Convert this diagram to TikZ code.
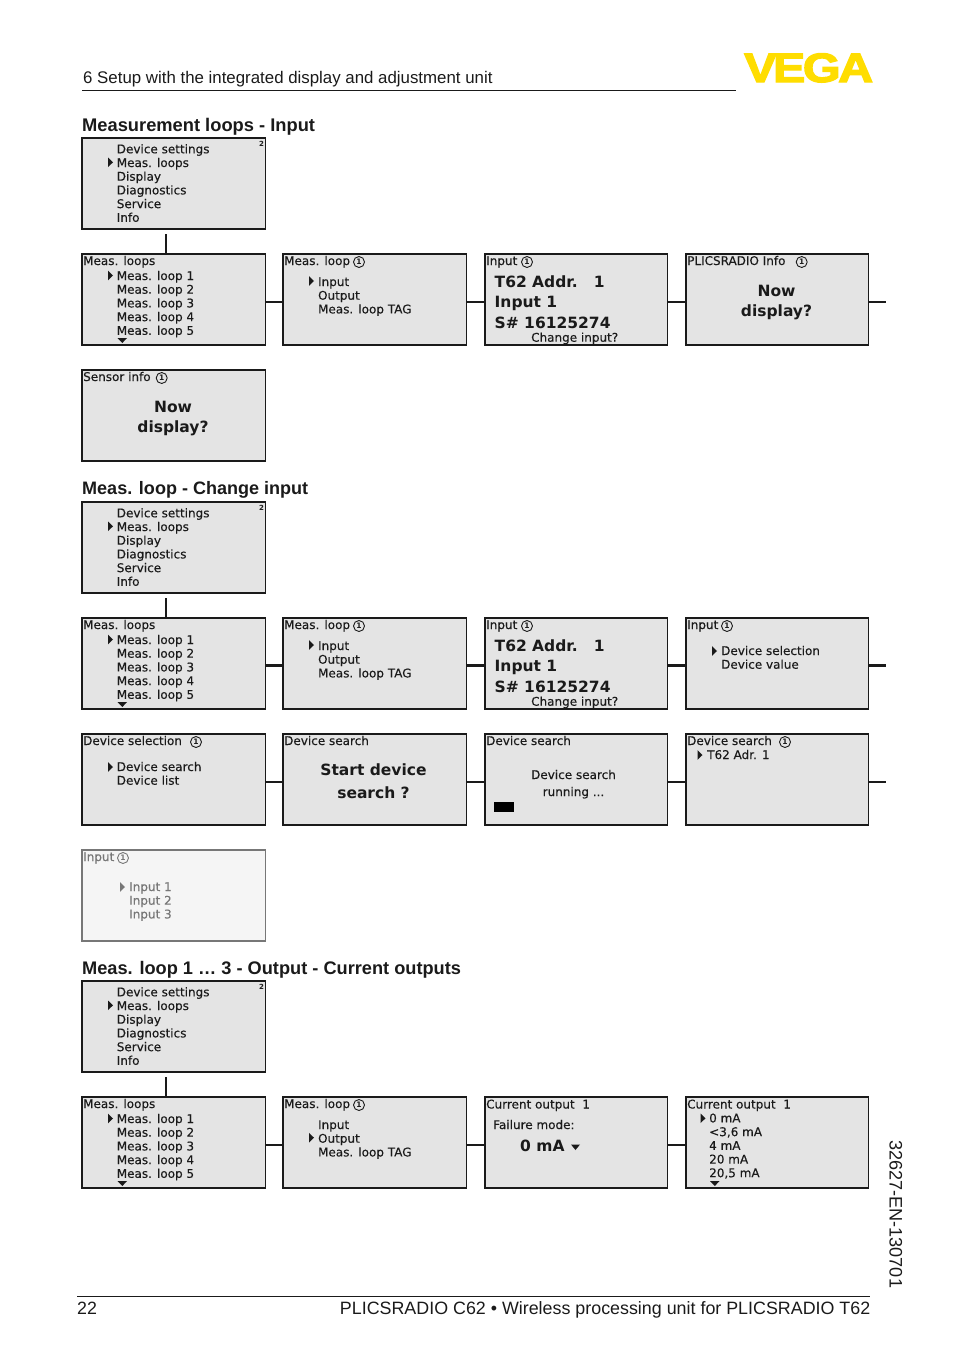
\documentclass[tikz,border=0pt]{standalone}
\usepackage{fontspec}
\setmainfont{Liberation Sans}
\newfontfamily\lcdfont[FakeBold=0.25]{DejaVu Sans}
\newfontfamily\bigfont{DejaVu Sans Bold}
\newfontfamily\logofont[FakeBold=3]{Liberation Sans Bold}
\definecolor{scrfill}{HTML}{E4E4E4}
\definecolor{fadefill}{HTML}{F5F5F5}
\definecolor{fadeink}{HTML}{777777}
\definecolor{ink}{HTML}{1A1A1A}
\definecolor{logoyellow}{HTML}{FFDD00}
\newcounter{tn}
\tikzset{
  scr/.style={draw=ink,fill=scrfill,line width=1.3pt,anchor=north west,minimum width=183.2pt,minimum height=91pt,inner sep=0pt,outer sep=0pt},
  scrn/.style={scr,minimum width=182.2pt},
  fadescr/.style={scr,draw=fadeink,fill=fadefill},
  conn/.style={draw=ink,line width=2pt},
  connb/.style={draw=ink,line width=2.6pt},
  lcd/.style={anchor=base west,inner sep=0pt,font=\lcdfont\fontsize{12}{12}\selectfont,text=ink},
  big/.style={anchor=base west,inner sep=0pt,font=\bigfont\fontsize{15.5}{16}\selectfont,text=ink},
  bigc/.style={big,anchor=base},
  lcdc/.style={lcd,anchor=base},
  heading/.style={anchor=base west,inner sep=0pt,font=\bfseries\fontsize{18.3}{20}\selectfont,text=ink},
  pagetext/.style={anchor=base west,inner sep=0pt,font=\fontsize{17.8}{20}\selectfont,text=ink},
  circ/.style={circle,draw=#1,line width=.9pt,minimum size=11pt,inner sep=0pt,text=#1,font=\bigfont\fontsize{7.5}{8}\selectfont},
  circ/.default=ink
}
\newcommand\T[4][lcd]{\stepcounter{tn}\node[#1] (t\thetn) at (#2,#3) {#4};}
\newcommand\C[2][ink]{\stepcounter{tn}\node[circ=#1] (t\thetn) at (#2,8) {1};}
\newcommand\ptr[3][ink]{\fill[#1] (#2,#3-4.8) -- (#2+5,#3) -- (#2,#3+4.8) -- cycle;}
\newcommand\dn[2]{\fill[ink] (#1,#2) -- (#1+9.6,#2) -- (#1+4.8,#2+5) -- cycle;}
\newcommand\screen[5][scr]{\node[#1] (#2) at (#3,#4) {};\begin{scope}[shift={(#3,#4)}]#5\end{scope}}
% repeated contents
\newcommand\mainmenu{%
  \T{34.6}{15.3}{Device settings}\T{34.6}{29}{Meas. loops}\T{34.6}{42.7}{Display}\T{34.6}{56.4}{Diagnostics}\T{34.6}{70.1}{Service}\T{34.6}{83.8}{Info}
  \ptr{26}{24.3}
  \T[lcd,font=\bigfont\fontsize{7}{8}\selectfont]{177}{8}{2}}
\newcommand\loops{%
  \T{1}{11}{Meas. loops}
  \T{34.6}{26}{Meas. loop 1}\T{34.6}{39.7}{Meas. loop 2}\T{34.6}{53.4}{Meas. loop 3}\T{34.6}{67.1}{Meas. loop 4}\T{34.6}{80.8}{Meas. loop 5}
  \ptr{26}{21.5}\dn{35.5}{84}}
\newcommand\inout[1]{%
  \T{1}{11}{Meas. loop}\C{76}
  \T{34.9}{32}{Input}\T{34.9}{45.7}{Output}\T{34.9}{59.4}{Meas. loop TAG}
  \ptr{26}{#1}}
\newcommand\inputinfo{%
  \T{1}{11}{Input}\C{42}
  \T[big]{9.5}{33}{T62 Addr.\ \ \ 1}\T[big]{9.5}{53}{Input 1}\T[big]{9.5}{74}{S\# 16125274}
  \T{46}{87.7}{Change input?}}
\newcommand\nowdisplay{\T[bigc]{90.5}{42.7}{Now}\T[bigc]{90.5}{62.7}{display?}}
\begin{document}
\begin{tikzpicture}[x=1pt,y=-1pt]
\useasboundingbox (0,0) rectangle (954,1354);
% page furniture
\node[pagetext,font=\fontsize{16.85}{20}\selectfont] (hdr) at (83,83) {6 Setup with the integrated display and adjustment unit};
\coordinate (hrA) at (82,90.5);\coordinate (hrB) at (736,90.5);
\draw[ink,line width=.9pt] (hrA) -- (hrB);
\node[anchor=base west,inner sep=0pt,text=logoyellow,font=\logofont\fontsize{41}{42}\selectfont,xscale=1.18] (logo) at (744,82) {V\kern-3pt E\kern-2pt G\kern-2pt A};
\node[heading] (h1) at (82,131) {Measurement loops - Input};
\node[heading,font=\bfseries\fontsize{18.03}{20}\selectfont] (h2) at (82,494) {Meas. loop - Change input};
\node[heading,font=\bfseries\fontsize{18.2}{20}\selectfont] (h3) at (82,974) {Meas. loop 1 … 3 - Output - Current outputs};
% block 1
\screen{a1}{82}{138}{\mainmenu}
\screen{a2}{82}{254}{\loops}
\screen{a3}{283}{254}{\inout{27}}
\screen[scrn]{a4}{485}{254}{\inputinfo}
\screen[scrn]{a5}{686}{254}{\T{1}{11}{PLICSRADIO Info}\C{115.7}\nowdisplay}
\screen{a6}{82}{370}{\T{1}{11}{Sensor info}\C{79.7}\T[bigc]{91}{42.7}{Now}\T[bigc]{91}{62.7}{display?}}
\coordinate (a1s) at (166,234);
\draw[conn] (a1s) -- (a1s |- a2.north);
\coordinate (a5e) at (886,301.5);
\draw[conn] ([yshift=-2pt]a2.east) -- ([yshift=-2pt]a3.west);
\draw[conn] ([yshift=-2pt]a3.east) -- ([yshift=-2pt]a4.west);
\draw[conn] ([yshift=-2pt]a4.east) -- ([yshift=-2pt]a5.west);
\draw[conn] ([yshift=-2pt]a5.east) -- (a5e);
% block 2
\screen{b1}{82}{502}{\mainmenu}
\screen{b2}{82}{618}{\loops}
\screen{b3}{283}{618}{\inout{27}}
\screen[scrn]{b4}{485}{618}{\inputinfo}
\screen[scrn]{b5}{686}{618}{\T{1}{11}{Input}\C{41}\T{35}{37}{Device selection}\T{35}{50.7}{Device value}\ptr{26}{33}}
\screen{c1}{82}{734}{\T{1}{11}{Device selection}\C{114}\T{34.6}{37}{Device search}\T{34.6}{50.7}{Device list}\ptr{26}{33}}
\screen{c2}{283}{734}{\T{1}{11}{Device search}\T[bigc]{90.5}{41}{Start device}\T[bigc]{90.5}{64}{search ?}}
\screen[scrn]{c3}{485}{734}{\T{1}{11}{Device search}\T[lcdc]{88.5}{45}{Device search}\T[lcdc]{88.5}{62}{running ...}\fill[black] (8.5,68) rectangle (28.5,78);}
\screen[scrn]{c4}{686}{734}{\T{1}{11}{Device search}\C{99}\T{21}{25}{T62 Adr. 1}\ptr{11.5}{21}}
\screen[fadescr]{d1}{82}{850}{%
  \T[lcd,text=fadeink]{1}{11}{Input}\C[fadeink]{41}
  \T[lcd,text=fadeink]{47}{41}{Input 1}\T[lcd,text=fadeink]{47}{54.7}{Input 2}\T[lcd,text=fadeink]{47}{68.4}{Input 3}
  \ptr[fadeink]{38}{37}}
\coordinate (b1s) at (166,598);
\draw[conn] (b1s) -- (b1s |- b2.north);
\coordinate (b5e) at (886,665.5);
\draw[connb] ([yshift=-2pt]b2.east) -- ([yshift=-2pt]b3.west);
\draw[connb] ([yshift=-2pt]b3.east) -- ([yshift=-2pt]b4.west);
\draw[connb] ([yshift=-2pt]b4.east) -- ([yshift=-2pt]b5.west);
\draw[connb] ([yshift=-2pt]b5.east) -- (b5e);
\coordinate (c4e) at (886,781.5);
\draw[conn] ([yshift=-2pt]c1.east) -- ([yshift=-2pt]c2.west);
\draw[conn] ([yshift=-2pt]c2.east) -- ([yshift=-2pt]c3.west);
\draw[conn] ([yshift=-2pt]c3.east) -- ([yshift=-2pt]c4.west);
\draw[conn] ([yshift=-2pt]c4.east) -- (c4e);
% block 3
\screen{e1}{82}{981}{\mainmenu}
\screen{e2}{82}{1097}{\loops}
\screen{e3}{283}{1097}{\inout{40.7}}
\screen[scrn]{e4}{485}{1097}{\T{1}{11.5}{Current output\ \ 1}\T{8}{32}{Failure mode:}\T[big]{35}{54}{0 mA}\fill[ink] (86,47.5) -- (95,47.5) -- (90.5,53) -- cycle;}
\screen[scrn]{e5}{686}{1097}{\T{1}{11.5}{Current output\ \ 1}
  \T{23}{25.4}{0 mA}\T{23}{39.1}{<3,6 mA}\T{23}{52.8}{4 mA}\T{23}{66.5}{20 mA}\T{23}{80.2}{20,5 mA}
  \ptr{14.5}{21.3}\dn{24}{84}}
\coordinate (e1s) at (166,1077);
\draw[conn] (e1s) -- (e1s |- e2.north);
\draw[conn] ([yshift=-2pt]e2.east) -- ([yshift=-2pt]e3.west);
\draw[conn] ([yshift=-2pt]e3.east) -- ([yshift=-2pt]e4.west);
\draw[conn] ([yshift=-2pt]e4.east) -- ([yshift=-2pt]e5.west);
% footer
\coordinate (frA) at (77,1296.5);\coordinate (frB) at (870,1296.5);
\draw[ink,line width=.9pt] (frA) -- (frB);
\node[pagetext] (pg) at (77,1314) {22};
\node[pagetext,anchor=base east,font=\fontsize{17.86}{20}\selectfont] (ft) at (870.5,1314) {PLICSRADIO C62 • Wireless processing unit for PLICSRADIO T62};
\node[pagetext,rotate=-90,anchor=base west,font=\fontsize{18.1}{20}\selectfont] (code) at (889.5,1140) {32627-EN-130701};
\end{tikzpicture}
\end{document}
